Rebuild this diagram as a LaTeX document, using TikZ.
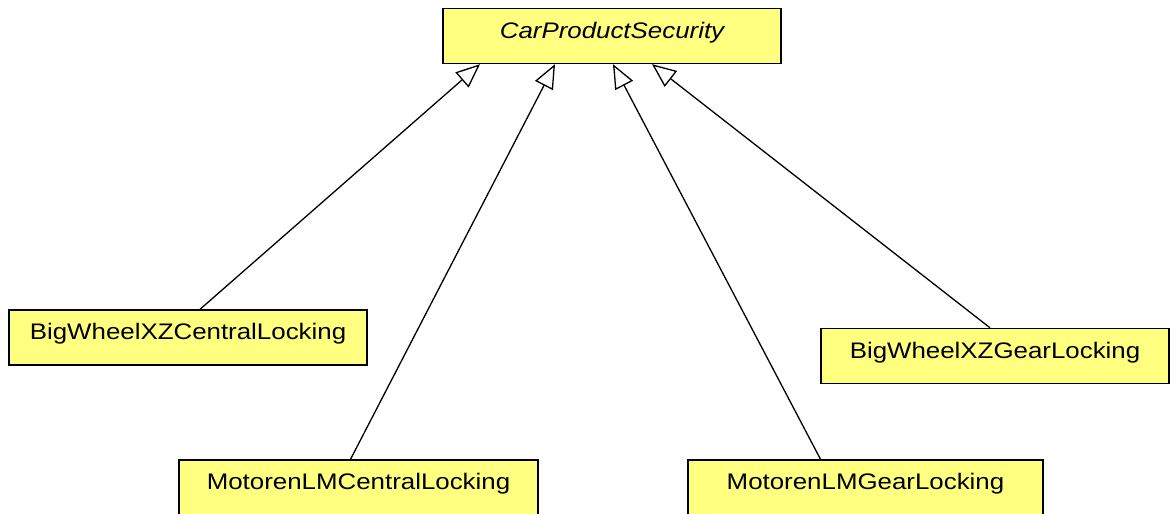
\documentclass[tikz,border=0pt]{standalone}
\usepackage{fontspec}
\setmainfont{Liberation Sans}[FakeStretch=1.15]
\usepackage{tikz}
\usetikzlibrary{arrows.meta}
\usetikzlibrary{calc}

\definecolor{claseamarilla}{RGB}{255,255,128}

\begin{document}
\begin{tikzpicture}[x=1pt, y=-1pt,
    clase/.style={draw=black, line width=1.4pt, fill=claseamarilla,
      minimum height=55pt, inner sep=0pt, text height=16pt, text depth=12pt,
      font=\fontsize{22.5}{27}\selectfont},
    hereda/.style={-{Triangle[length=24pt, width=20pt, fill=white, line width=1.3pt]},
      line width=1.3pt}]

    \useasboundingbox (0,0) rectangle (1173,514);

    % Clase base
    \node[clase, minimum width=338pt] (Base) at (612,36) {\itshape CarProductSecurity};

    % Subclases
    \node[clase, minimum width=358pt] (BWCentral) at (188,337.5) {BigWheelXZCentralLocking};
    \node[clase, minimum width=359pt] (MLCentral) at (358.5,487.5) {MotorenLMCentralLocking};
    \node[clase, minimum width=348pt] (BWGear) at (995,356) {BigWheelXZGearLocking};
    \node[clase, minimum width=355pt] (MLGear) at (865.5,487.5) {MotorenLMGearLocking};

    % Herencia
    \draw[hereda] ([xshift=12]BWCentral.north) -- ([xshift=-132]Base.south);
    \draw[hereda] ([xshift=-8]MLCentral.north) -- ([xshift=-57]Base.south);
    \draw[hereda] ([xshift=-45]MLGear.north) -- ([xshift=1]Base.south);
    \draw[hereda] ([xshift=-5]BWGear.north) -- ([xshift=40]Base.south);

\end{tikzpicture}
\end{document}
